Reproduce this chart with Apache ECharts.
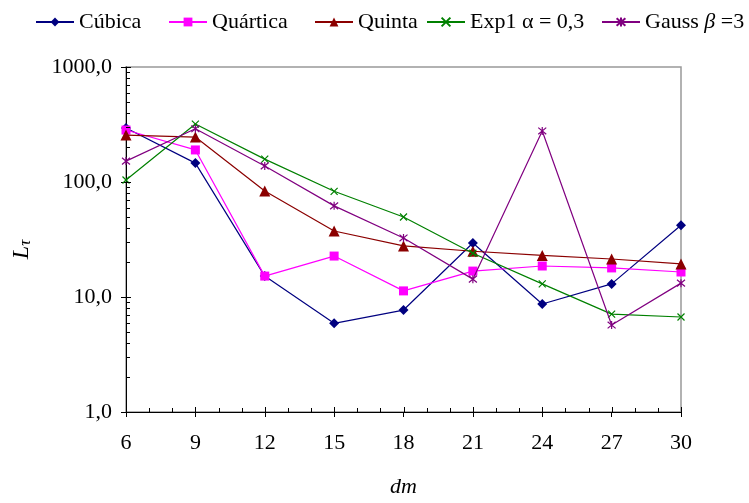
<!DOCTYPE html>
<html>
<head>
<meta charset="utf-8">
<script src="https://cdn.jsdelivr.net/npm/echarts@6/dist/echarts.min.js"></script>
<style>html,body{margin:0;padding:0;background:#fff}#c{width:749px;height:503px}</style>
</head>
<body>
<div id="c"></div>
<script>
const dm = [6, 9, 12, 15, 18, 21, 24, 27, 30];
const cubica   = [295, 146, 15.2, 5.9, 7.7, 29.5, 8.7, 13, 42];
const quartica = [283, 190, 15.2, 22.7, 11.3, 16.8, 18.6, 17.9, 16.5];
const quinta   = [256, 246, 83.5, 37.5, 27.8, 25, 23, 21.4, 19.4];
const exp1     = [104, 319, 158, 83, 49.6, 24, 13, 7.1, 6.7];
const gauss    = [152, 290, 138, 62, 32.6, 14.3, 278, 5.7, 13.2];

const seriesNames = ['Cúbica', 'Quártica', 'Quinta', 'Exp1 α = 0,3', 'Gauss β =3'];
const yMajorTicks = [1, 10, 100, 1000];
const yMinorTicks = [2,3,4,5,6,7,8,9, 20,30,40,50,60,70,80,90, 200,300,400,500,600,700,800,900];
const xMajorTicks = [6, 9, 12, 15, 18, 21, 24, 27, 30];
const xMinorTicks = [7,8,10,11,13,14,16,17,19,20,22,23,25,26,28,29];

const FONT = '"Liberation Serif", "Times New Roman", serif';
const colors = ['#000080', '#FF00FF', '#8B0000', '#008000', '#800080'];
const symbols = ['diamond', 'rect', 'triangle',
  'path://M0,0L10,10M10,0L0,10',
  'path://M0,0L10,10M10,0L0,10M5,-1L5,11'];
const sizes = [10, 9, 11, 7, 8];
const values = [cubica, quartica, quinta, exp1, gauss];

function pair(arr) { return dm.map((x, i) => [x, arr[i]]); }

const lineSeries = seriesNames.map((n, i) => ({
  name: n,
  type: 'line',
  data: pair(values[i]),
  symbol: symbols[i],
  symbolSize: sizes[i],
  showAllSymbol: true,
  lineStyle: { color: colors[i], width: 1.2 },
  itemStyle: { color: i >= 3 ? 'rgba(0,0,0,0)' : colors[i], borderColor: colors[i], borderWidth: i >= 3 ? 1.2 : 0 },
  emphasis: { disabled: true },
  z: 3 + i
}));

const yTickData = yMajorTicks.map(v => [6, v, 5]).concat(yMinorTicks.map(v => [6, v, 4]));
const xTickData = xMajorTicks.map(v => [v, 1, 5]).concat(xMinorTicks.map(v => [v, 1, 4]));

const tickSeries = [
  {
    type: 'custom', silent: true, clip: false, z: 20, data: yTickData,
    renderItem(params, api) {
      const p = api.coord([api.value(0), api.value(1)]);
      const y = Math.round(p[1]) + 0.5;
      const x = Math.round(p[0]);
      return { type: 'line', shape: { x1: x, y1: y, x2: x + api.value(2), y2: y }, style: { stroke: '#000', lineWidth: 1 } };
    }
  },
  {
    type: 'custom', silent: true, clip: false, z: 20, data: xTickData,
    renderItem(params, api) {
      const p = api.coord([api.value(0), api.value(1)]);
      const x = Math.round(p[0]) + 0.5;
      const y = Math.round(p[1]);
      return { type: 'line', shape: { x1: x, y1: y, x2: x, y2: y - api.value(2) }, style: { stroke: '#000', lineWidth: 1 } };
    }
  }
];

const legendLefts = [30, 163, 309, 421, 596];
const legends = seriesNames.map((n, i) => ({
  data: [n],
  left: legendLefts[i],
  top: 6,
  itemWidth: 38,
  itemHeight: 11,
  itemGap: 6,
  selectedMode: false,
  textStyle: {
    fontFamily: FONT, fontSize: 22, color: '#000',
    rich: { n: { fontFamily: FONT, fontSize: 22, color: '#000' }, g: { fontFamily: FONT, fontSize: 22, fontStyle: 'italic', color: '#000' } }
  },
  formatter: function (name) {
    if (name === 'Gauss β =3') return '{n|Gauss }{g|β}{n| =3}';
    return '{n|' + name + '}';
  }
}));

const chart = echarts.init(document.getElementById('c'), null, { renderer: 'canvas' });
chart.setOption({
  animation: false,
  backgroundColor: '#fff',
  legend: legends,
  grid: { left: 126, right: 68, top: 67, bottom: 91, show: true, borderColor: '#999', borderWidth: 1.5, backgroundColor: 'transparent' },
  xAxis: {
    type: 'value', min: 6, max: 30, interval: 3,
    name: 'dm', nameLocation: 'middle', nameGap: 64,
    nameTextStyle: { fontFamily: FONT, fontSize: 22, fontStyle: 'italic', color: '#000' },
    axisLine: { lineStyle: { color: '#000', width: 1 } },
    axisTick: { show: true, length: 5, lineStyle: { color: '#000' } },
    axisLabel: { fontFamily: FONT, fontSize: 22, color: '#000', margin: 20 },
    splitLine: { show: false }
  },
  yAxis: {
    type: 'log', logBase: 10, min: 1, max: 1000,
    name: '{L|L}{t|τ}', nameLocation: 'middle', nameGap: 92, nameRotate: 90,
    nameTextStyle: {
      padding: [0, 20, 0, 0],
      rich: {
        L: { fontFamily: FONT, fontSize: 24, fontStyle: 'italic', color: '#000' },
        t: { fontFamily: FONT, fontSize: 17, fontStyle: 'italic', color: '#000', padding: [8, 0, 0, 0] }
      }
    },
    axisLine: { show: true, lineStyle: { color: '#000', width: 1 } },
    axisTick: { show: true, length: 5, lineStyle: { color: '#000' } },
    axisLabel: { fontFamily: FONT, fontSize: 22, color: '#000', margin: 14, formatter: v => v.toFixed(1).replace('.', ',') },
    splitLine: { show: false }
  },
  series: lineSeries.concat(tickSeries)
});
</script>
</body>
</html>
